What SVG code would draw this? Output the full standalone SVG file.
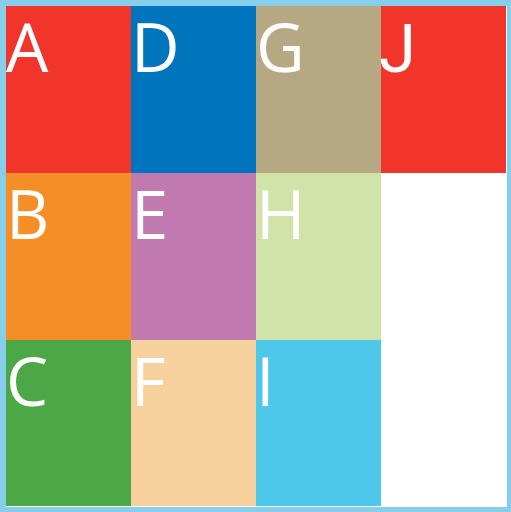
<svg xmlns="http://www.w3.org/2000/svg" width="511" height="512" viewBox="0 0 511 512">
<style>
.lbl{font-family:"Open Sans","Noto Sans","DejaVu Sans",sans-serif;font-size:67px;fill:#ffffff}
.j{font-family:Roboto,"Open Sans",sans-serif}
</style>
<rect x="0" y="0" width="511" height="512" fill="#87CEEB"/>
<rect x="6" y="6" width="501" height="501" fill="#ffffff"/>
<g id="A"><rect x="6" y="6" width="125" height="167" fill="#F2352A"/><text class="lbl" x="6" y="72">A</text></g>
<g id="B"><rect x="6" y="173" width="125" height="167" fill="#F68E27"/><text class="lbl" x="6" y="239">B</text></g>
<g id="C"><rect x="6" y="340" width="125" height="166" fill="#4CA847"/><text class="lbl" x="6" y="406">C</text></g>
<g id="D"><rect x="131" y="6" width="125" height="167" fill="#0075BE"/><text class="lbl" x="131" y="72">D</text></g>
<g id="E"><rect x="131" y="173" width="125" height="167" fill="#C07AB0"/><text class="lbl" x="131" y="239">E</text></g>
<g id="F"><rect x="131" y="340" width="125" height="166" fill="#F6D19E"/><text class="lbl" x="131" y="406">F</text></g>
<g id="G"><rect x="256" y="6" width="125" height="167" fill="#B6A882"/><text class="lbl" x="256" y="72">G</text></g>
<g id="H"><rect x="256" y="173" width="125" height="167" fill="#D2E3AA"/><text class="lbl" x="256" y="239">H</text></g>
<g id="I"><rect x="256" y="340" width="125" height="166" fill="#4DC7EA"/><text class="lbl" x="256" y="406">I</text></g>
<g id="J"><rect x="381" y="6" width="125" height="167" fill="#F2352A"/><text class="lbl j" x="379" y="72">J</text></g>
<g id="connectors"></g>
</svg>
